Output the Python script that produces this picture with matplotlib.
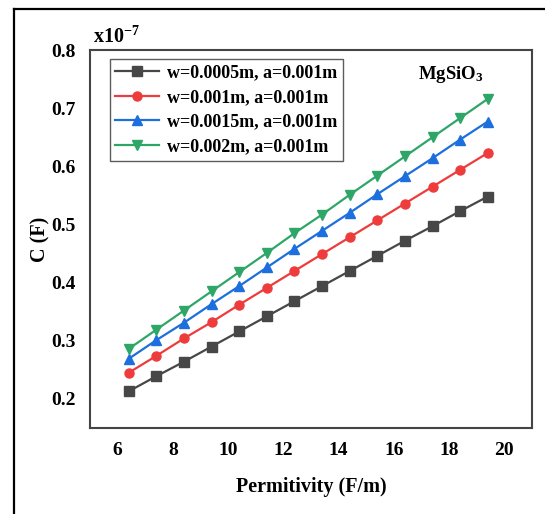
import numpy as np
import matplotlib.pyplot as plt
from matplotlib.lines import Line2D

plt.rcParams['font.family'] = 'Liberation Serif'
plt.rcParams['font.weight'] = 'bold'
plt.rcParams['mathtext.fontset'] = 'custom'
plt.rcParams['mathtext.rm'] = 'Liberation Serif:bold'
plt.rcParams['mathtext.bf'] = 'Liberation Serif:bold'
plt.rcParams['mathtext.default'] = 'bf'

eps = [6.4, 7.4, 8.4, 9.4, 10.4, 11.4, 12.4, 13.4, 14.4, 15.4, 16.4, 17.4, 18.4, 19.4]
c_w0005 = [0.213, 0.239, 0.264, 0.290, 0.316, 0.342, 0.368, 0.394, 0.420, 0.446, 0.472, 0.497, 0.523, 0.548]
c_w001 = [0.245, 0.274, 0.304, 0.332, 0.362, 0.391, 0.420, 0.449, 0.478, 0.507, 0.536, 0.565, 0.594, 0.623]
c_w0015 = [0.269, 0.301, 0.331, 0.363, 0.394, 0.426, 0.458, 0.489, 0.520, 0.552, 0.583, 0.614, 0.646, 0.677]
c_w002 = [0.286, 0.319, 0.352, 0.385, 0.418, 0.451, 0.485, 0.517, 0.551, 0.584, 0.617, 0.650, 0.683, 0.716]
labels = ["w=0.0005m, a=0.001m", "w=0.001m, a=0.001m",
          "w=0.0015m, a=0.001m", "w=0.002m, a=0.001m"]

fig = plt.figure(figsize=(5.45, 5.14), dpi=100)
ax = fig.add_axes([90/545, 1-428/514, 442/545, 378/514])

series = [c_w0005, c_w001, c_w0015, c_w002]
colors = ['#474747', '#ee3b3b', '#1c6fdc', '#2ea668']
markers = ['s', 'o', '^', 'v']
for ys, col, mk, lab in zip(series, colors, markers, labels):
    ax.plot(eps, ys, color=col, marker=mk, markersize=6.5, lw=1.6, label=lab)

ax.set_xlim(5, 21)
ax.set_ylim(0.15, 0.8)
ax.set_xticks(range(6, 21, 2))
ax.set_yticks([0.2, 0.3, 0.4, 0.5, 0.6, 0.7, 0.8])
ax.tick_params(length=0, labelsize=14, pad=10)
for s in ax.spines.values():
    s.set_color('#444444')
    s.set_linewidth(1.5)

ax.set_xlabel("Permitivity (F/m)", fontsize=14.5, fontweight='bold', labelpad=13)
ax.set_ylabel("C (F)", fontsize=14.5, fontweight='bold')
ax.yaxis.set_label_coords(-0.09, 0.5)

leg = ax.legend(loc='upper left', bbox_to_anchor=(0.045, 0.976), fontsize=13,
                frameon=True, fancybox=False, handlelength=2.4, handletextpad=0.45,
                borderpad=0.3, labelspacing=0.42, borderaxespad=0)
leg.get_frame().set_edgecolor('#333333')
leg.get_frame().set_linewidth(1.0)

ax.text(0.817, 0.934, r"MgSiO$_{3}$", transform=ax.transAxes, fontsize=13.5,
        fontweight='bold', ha='center', va='center')
fig.text(93/545, 1-37/514, r"x10$^{-7}$", fontsize=14.5, fontweight='bold',
         ha='left', va='center')

# outer frame (cropped)
fig.add_artist(Line2D([14/545, 14/545], [0, 1-9/514], transform=fig.transFigure, color='black', lw=1.6))
fig.add_artist(Line2D([14/545, 1], [1-9/514, 1-9/514], transform=fig.transFigure, color='black', lw=1.6))

fig.savefig("out.png", dpi=100)
